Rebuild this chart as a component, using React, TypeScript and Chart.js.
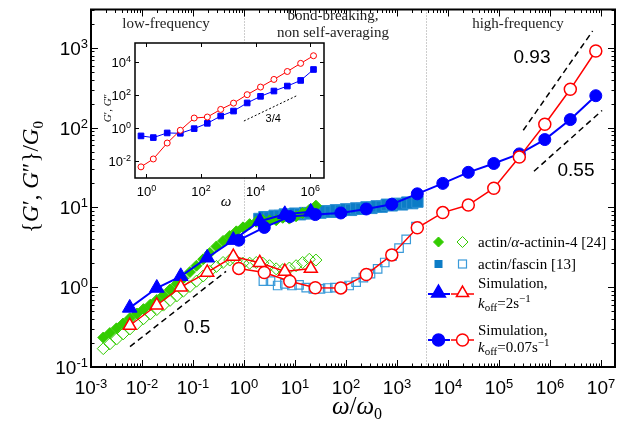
import React, { useEffect, useRef } from 'react';
import { Chart, registerables } from 'chart.js';
Chart.register(...registerables);

// ---------------- data ----------------
// Simulation k_off = 0.07 s^-1
const slowOmega = [0.79, 2.5, 7.9, 25, 79, 250, 790, 2500, 7900, 25000, 79000, 250000, 790000, 2.5e6, 7.9e6];
const slowGp = [3.88, 5.61, 7.67, 8.13, 8.51, 9.55, 10.96, 14.8, 20.0, 27.5, 35.5, 46.8, 70.8, 126, 251];
const slowGpp = [1.72, 1.53, 1.19, 0.986, 0.98, 1.44, 2.54, 5.55, 8.61, 10.7, 17.4, 42.7, 110, 302, 912];
// Simulation k_off = 2 s^-1
const fastOmega = [0.00575, 0.0195, 0.0575, 0.19, 0.617, 2.04, 6.31, 20.4];
const fastGp = [0.55, 0.977, 1.37, 2.34, 3.89, 6.71, 8.2, 8.8];
const fastGpp = [0.331, 0.594, 1.0, 1.53, 2.42, 2.02, 1.57, 1.71];
// actin / alpha-actinin-4 [24]
const actininOmega = [0.00174, 0.00234, 0.00316, 0.00427, 0.00575, 0.00794, 0.0107, 0.0145, 0.0195, 0.0263, 0.0355, 0.0479, 0.0646, 0.0871, 0.117, 0.158, 0.214, 0.288, 0.389, 0.525, 0.708, 0.955, 1.29, 1.74, 2.34, 3.16, 4.27, 5.75, 7.76, 10.5, 14.1, 19.1, 25.7];
const actininGp = [0.234, 0.266, 0.305, 0.351, 0.407, 0.468, 0.531, 0.603, 0.692, 0.794, 0.933, 1.10, 1.29, 1.55, 1.86, 2.24, 2.69, 3.24, 3.80, 4.37, 5.01, 5.62, 6.17, 6.61, 6.92, 6.85, 6.92, 7.41, 7.24, 7.76, 8.51, 9.33, 10.5];
const actininGpp = [0.170, 0.195, 0.224, 0.260, 0.299, 0.347, 0.403, 0.462, 0.525, 0.596, 0.684, 0.776, 0.891, 1.02, 1.19, 1.38, 1.58, 1.82, 2.04, 2.19, 2.14, 2.0, 2.0, 2.04, 2.0, 1.86, 1.70, 1.66, 1.74, 1.86, 2.04, 2.24, 2.19];
// actin / fascin [13]
const fascinGpOmega = [2.0, 2.51, 3.16, 3.98, 5.01, 6.31, 7.94, 10, 12.6, 15.8, 20, 25.1, 31.6, 39.8, 50.1, 63.1, 79.4, 100, 126, 158, 200, 251, 316, 398, 501, 631, 794, 1000, 1259, 1585, 1995, 2512];
const fascinGp = [7.16, 7.55, 7.45, 7.85, 7.8, 8.15, 8.0, 8.35, 8.2, 8.5, 8.4, 8.75, 8.6, 8.95, 8.8, 9.2, 9.1, 9.45, 9.3, 9.7, 9.6, 10.0, 9.85, 10.3, 10.2, 10.8, 10.6, 11.1, 10.9, 11.5, 11.3, 11.8];
const fascinGppOmega = [2.40, 3.31, 4.57, 6.31, 8.71, 12.0, 16.6, 22.9, 31.6, 43.7, 60.3, 83.2, 115, 158, 219, 302, 417, 575, 794, 1096, 1514, 2350];
const fascinGpp = [1.19, 1.19, 1.05, 1.10, 1.05, 1.07, 0.99, 0.955, 0.955, 0.977, 0.99, 1.01, 1.05, 1.16, 1.32, 1.48, 1.70, 2.04, 2.45, 3.09, 3.98, 5.75];
// power-law guides
const guideLowX = [0.00582, 0.444];
const guideLowY = [0.180, 1.58];
const guideHighGppX = [299000, 6.84e6];
const guideHighGppY = [92.7, 1622];
const guideHighGpX = [485000, 1.05e7];
const guideHighGpY = [28.4, 164];
const slopeLabels = ['0.5', '0.93', '0.55'];
// region boundaries and labels
const regionBounds = [1, 3715];
const xTickExps = [-3, -2, -1, 0, 1, 2, 3, 4, 5, 6, 7];
const yTickExps = [-1, 0, 1, 2, 3];
// inset
const insetOmega = [0.63, 1.78, 5.75, 17.4, 56, 170, 525, 1550, 4900, 15100, 46800, 145000, 447000, 1320000];
const insetGp = [0.347, 0.275, 0.525, 0.50, 0.955, 2.0, 5.5, 11.0, 33.9, 85, 178, 355, 776, 3550];
const insetGpp = [0.0047, 0.0141, 0.129, 0.76, 4.17, 4.79, 13.8, 33.1, 107, 309, 891, 2690, 8320, 24000];
const insetGuideX = [3715, 324000];
const insetGuideY = [2.75, 93.3];
const insetXTickExps = [0, 2, 4, 6];
const insetYTickExps = [-2, 0, 2, 4];

const pts = (xs: number[], ys: number[]) => xs.map((x, i) => ({ x, y: ys[i] }));

const SANS = '"Liberation Sans", Arial, sans-serif';
const SERIF = '"Liberation Serif", "Times New Roman", serif';
const GREEN = '#33cc00';
const FASCIN = '#0c7cc6';
const FASCIN_EDGE = '#2a8fd2';
const FASCIN_OPEN = '#3a9ad9';

type Run = { t: string; font: string; dy?: number };
function runsWidth(ctx: CanvasRenderingContext2D, runs: Run[]) {
  let w = 0;
  for (const r of runs) { ctx.font = r.font; w += ctx.measureText(r.t).width; }
  return w;
}
function drawRuns(ctx: CanvasRenderingContext2D, runs: Run[], x: number, y: number, align: 'left' | 'center' | 'right') {
  const w = runsWidth(ctx, runs);
  let cx = align === 'left' ? x : align === 'center' ? x - w / 2 : x - w;
  ctx.textAlign = 'left';
  ctx.textBaseline = 'alphabetic';
  for (const r of runs) {
    ctx.font = r.font;
    ctx.fillText(r.t, cx, y + (r.dy || 0));
    cx += ctx.measureText(r.t).width;
  }
}
function powRuns(exp: number, base: number, sup: number, supDy: number): Run[] {
  return [
    { t: '10', font: `${base}px ${SANS}` },
    { t: exp < 0 ? '-' + -exp : String(exp), font: `${sup}px ${SANS}`, dy: supDy },
  ];
}

const mainPlugin = {
  id: 'mainDecor',
  beforeDatasetsDraw(chart: any) {
    const { ctx, chartArea: a, scales } = chart;
    ctx.save();
    ctx.strokeStyle = '#9a9a9a';
    ctx.lineWidth = 1;
    ctx.setLineDash([1, 2]);
    for (const b of regionBounds) {
      const px = Math.round(scales.x.getPixelForValue(b)) + 0.5;
      ctx.beginPath();
      ctx.moveTo(px, a.top);
      ctx.lineTo(px, a.bottom);
      ctx.stroke();
    }
    ctx.restore();
  },
  afterDatasetsDraw(chart: any) {
    const { ctx, chartArea: a, scales } = chart;
    const xs = scales.x, ys = scales.y;
    ctx.save();
    ctx.strokeStyle = '#000';
    ctx.lineWidth = 1;
    ctx.beginPath();
    for (let e = -4; e <= 8; e++) {
      for (let m = 1; m <= 9; m++) {
        const v = m * Math.pow(10, e);
        if (v > xs.min && v < xs.max) {
          const px = Math.round(xs.getPixelForValue(v)) + 0.5;
          const len = m === 1 ? 7 : 3.5;
          ctx.moveTo(px, a.bottom); ctx.lineTo(px, a.bottom - len);
          ctx.moveTo(px, a.top); ctx.lineTo(px, a.top + len);
        }
        if (v > ys.min && v < ys.max) {
          const py = Math.round(ys.getPixelForValue(v)) + 0.5;
          const len = m === 1 ? 7 : 3.5;
          ctx.moveTo(a.left, py); ctx.lineTo(a.left + len, py);
          ctx.moveTo(a.right, py); ctx.lineTo(a.right - len, py);
        }
      }
    }
    ctx.stroke();
    ctx.lineWidth = 2;
    ctx.strokeRect(a.left, a.top, a.right - a.left, a.bottom - a.top);
    ctx.restore();
  },
  afterDraw(chart: any) {
    const { ctx, scales } = chart;
    const xs = scales.x, ys = scales.y;
    ctx.save();
    ctx.fillStyle = '#000';
    // tick labels
    for (const e of xTickExps) {
      const px = xs.getPixelForValue(Math.pow(10, e));
      drawRuns(ctx, powRuns(e, 19, 13, -6), px, 394, 'center');
    }
    for (const e of yTickExps) {
      const py = ys.getPixelForValue(Math.pow(10, e));
      drawRuns(ctx, powRuns(e, 19, 13, -7), 88, py + 7, 'right');
    }
    // axis titles
    drawRuns(ctx, [
      { t: 'ω', font: `italic 25px ${SERIF}` },
      { t: '/', font: `25px ${SERIF}` },
      { t: 'ω', font: `italic 25px ${SERIF}` },
      { t: '0', font: `16px ${SERIF}`, dy: 5 },
    ], 357, 414, 'center');
    ctx.save();
    ctx.translate(38, 177);
    ctx.rotate(-Math.PI / 2);
    drawRuns(ctx, [
      { t: '{', font: `23px ${SERIF}` },
      { t: 'G', font: `italic 23px ${SERIF}` },
      { t: '′', font: `23px ${SERIF}` },
      { t: ', ', font: `23px ${SERIF}` },
      { t: 'G', font: `italic 23px ${SERIF}` },
      { t: '″', font: `23px ${SERIF}` },
      { t: '}/', font: `23px ${SERIF}` },
      { t: 'G', font: `italic 23px ${SERIF}` },
      { t: '0', font: `15px ${SERIF}`, dy: 5 },
    ], 0, 0, 'center');
    ctx.restore();
    // region labels
    ctx.fillStyle = '#222';
    ctx.font = `15px ${SERIF}`;
    ctx.textAlign = 'center';
    ctx.textBaseline = 'middle';
    ctx.fillText('low-frequency', 166, 24);
    ctx.fillText('bond-breaking,', 333, 16);
    ctx.fillText('non self-averaging', 333, 33);
    ctx.fillText('high-frequency', 518, 24);
    // slope labels
    ctx.fillStyle = '#000';
    ctx.font = `19px ${SANS}`;
    ctx.fillText(slopeLabels[0], 197, 328);
    ctx.fillText(slopeLabels[1], 532, 58);
    ctx.fillText(slopeLabels[2], 576, 171);
    // legend
    const mx1 = 438.5, mx2 = 462.5, tx = 478;
    const diamond = (x: number, y: number, r: number, fill: boolean, col: string) => {
      ctx.beginPath();
      ctx.moveTo(x, y - r); ctx.lineTo(x + r, y); ctx.lineTo(x, y + r); ctx.lineTo(x - r, y); ctx.closePath();
      if (fill) { ctx.fillStyle = col; ctx.fill(); }
      ctx.strokeStyle = col; ctx.lineWidth = 1; ctx.stroke();
    };
    const square = (x: number, y: number, s: number, fill: boolean, col: string) => {
      if (fill) { ctx.fillStyle = col; ctx.fillRect(x - s / 2, y - s / 2, s, s); }
      else { ctx.strokeStyle = col; ctx.lineWidth = 1.2; ctx.strokeRect(x - s / 2, y - s / 2, s, s); }
    };
    const tri = (x: number, y: number, r: number, fill: boolean, col: string) => {
      ctx.beginPath();
      ctx.moveTo(x, y - r);
      ctx.lineTo(x + r * 0.866, y + r * 0.5);
      ctx.lineTo(x - r * 0.866, y + r * 0.5);
      ctx.closePath();
      ctx.fillStyle = fill ? col : '#fff'; ctx.fill();
      ctx.strokeStyle = col; ctx.lineWidth = 1.5; ctx.stroke();
    };
    const circ = (x: number, y: number, r: number, fill: boolean, col: string) => {
      ctx.beginPath(); ctx.arc(x, y, r, 0, Math.PI * 2);
      ctx.fillStyle = fill ? col : '#fff'; ctx.fill();
      ctx.strokeStyle = col; ctx.lineWidth = 1.5; ctx.stroke();
    };
    const seg = (x1: number, x2: number, y: number, col: string, w: number) => {
      ctx.beginPath(); ctx.moveTo(x1, y); ctx.lineTo(x2, y);
      ctx.strokeStyle = col; ctx.lineWidth = w; ctx.stroke();
    };
    diamond(mx1, 242, 5, true, GREEN);
    diamond(mx2, 242, 5.5, false, GREEN);
    square(mx1, 264, 8, true, FASCIN);
    square(mx2, 264, 8, false, FASCIN_OPEN);
    seg(428, 450, 294, '#0000ff', 2);
    seg(451, 474, 294, '#ff0000', 1.5);
    tri(mx1, 293, 8, true, '#0000ff');
    tri(mx2, 293, 7, false, '#ff0000');
    seg(428, 450, 340, '#0000ff', 2);
    seg(451, 474, 340, '#ff0000', 1.5);
    circ(mx1, 340, 6, true, '#0000ff');
    circ(mx2, 340, 6, false, '#ff0000');
    ctx.fillStyle = '#000';
    const R = `15px ${SERIF}`, I = `italic 15px ${SERIF}`, S = `11px ${SERIF}`;
    drawRuns(ctx, [
      { t: 'actin/', font: R }, { t: 'α', font: I }, { t: '-actinin-4 [24]', font: R },
    ], tx, 247, 'left');
    drawRuns(ctx, [{ t: 'actin/fascin [13]', font: R }], tx, 269, 'left');
    drawRuns(ctx, [{ t: 'Simulation,', font: R }], tx, 288, 'left');
    drawRuns(ctx, [
      { t: 'k', font: I }, { t: 'off', font: S, dy: 3 }, { t: '=2s', font: R }, { t: '−1', font: S, dy: -6 },
    ], tx, 308, 'left');
    drawRuns(ctx, [{ t: 'Simulation,', font: R }], tx, 335, 'left');
    drawRuns(ctx, [
      { t: 'k', font: I }, { t: 'off', font: S, dy: 3 }, { t: '=0.07s', font: R }, { t: '−1', font: S, dy: -6 },
    ], tx, 352, 'left');
    ctx.restore();
  },
};

const insetPlugin = {
  id: 'insetDecor',
  beforeDraw(chart: any) {
    const { ctx, chartArea: a } = chart;
    ctx.save();
    ctx.fillStyle = '#fff';
    ctx.fillRect(a.left, a.top, a.right - a.left, a.bottom - a.top);
    ctx.restore();
  },
  afterDatasetsDraw(chart: any) {
    const { ctx, chartArea: a, scales } = chart;
    const xs = scales.x, ys = scales.y;
    ctx.save();
    ctx.strokeStyle = '#000';
    ctx.lineWidth = 1;
    ctx.beginPath();
    for (const e of insetXTickExps) {
      const px = Math.round(xs.getPixelForValue(Math.pow(10, e))) + 0.5;
      ctx.moveTo(px, a.bottom); ctx.lineTo(px, a.bottom - 4);
      ctx.moveTo(px, a.top); ctx.lineTo(px, a.top + 4);
    }
    for (const e of insetYTickExps) {
      const py = Math.round(ys.getPixelForValue(Math.pow(10, e))) + 0.5;
      ctx.moveTo(a.left, py); ctx.lineTo(a.left + 4, py);
      ctx.moveTo(a.right, py); ctx.lineTo(a.right - 4, py);
    }
    ctx.stroke();
    ctx.lineWidth = 1.5;
    ctx.strokeRect(a.left, a.top, a.right - a.left, a.bottom - a.top);
    ctx.fillStyle = '#000';
    for (const e of insetXTickExps) {
      const px = xs.getPixelForValue(Math.pow(10, e));
      drawRuns(ctx, powRuns(e, 13, 9, -5), px, 196, 'center');
    }
    for (const e of insetYTickExps) {
      const py = ys.getPixelForValue(Math.pow(10, e));
      drawRuns(ctx, powRuns(e, 13, 9, -5), 131, py + 5, 'right');
    }
    drawRuns(ctx, [{ t: 'ω', font: `italic 15px ${SERIF}` }], 226, 206, 'center');
    ctx.save();
    ctx.translate(111, 108);
    ctx.rotate(-Math.PI / 2);
    drawRuns(ctx, [
      { t: 'G', font: `italic 11px ${SERIF}` }, { t: '′, ', font: `11px ${SERIF}` },
      { t: 'G', font: `italic 11px ${SERIF}` }, { t: '″', font: `11px ${SERIF}` },
    ], 0, 0, 'center');
    ctx.restore();
    ctx.font = `11px ${SANS}`;
    ctx.textAlign = 'center';
    ctx.textBaseline = 'middle';
    ctx.fillText('3/4', xs.getPixelForValue(44000), ys.getPixelForValue(3.5));
    ctx.restore();
  },
};

export default function App() {
  const mainRef = useRef<HTMLCanvasElement>(null);
  const insetRef = useRef<HTMLCanvasElement>(null);

  useEffect(() => {
    document.body.style.margin = '0';
    const main = new Chart(mainRef.current as HTMLCanvasElement, {
      type: 'scatter',
      data: {
        datasets: [
          { data: pts(slowOmega, slowGpp), showLine: true, borderColor: '#ff0000', borderWidth: 1.5, pointStyle: 'circle', pointRadius: 6, pointBackgroundColor: '#ffffff', pointBorderColor: '#ff0000', pointBorderWidth: 1.5 },
          { data: pts(slowOmega, slowGp), showLine: true, borderColor: '#0000ff', borderWidth: 2, pointStyle: 'circle', pointRadius: 6, pointBackgroundColor: '#0000ff', pointBorderColor: '#0000ff', pointBorderWidth: 1 },
          { data: pts(fastOmega, fastGpp), showLine: true, borderColor: '#ff0000', borderWidth: 1.5, pointStyle: 'triangle', pointRadius: 7.5, pointBackgroundColor: '#ffffff', pointBorderColor: '#ff0000', pointBorderWidth: 1.5 },
          { data: pts(fastOmega, fastGp), showLine: true, borderColor: '#0000ff', borderWidth: 2, pointStyle: 'triangle', pointRadius: 8.5, pointBackgroundColor: '#0000ff', pointBorderColor: '#0000ff', pointBorderWidth: 1 },
          { data: pts(guideLowX, guideLowY), showLine: true, borderColor: '#000', borderWidth: 1.5, borderDash: [6, 4], pointRadius: 0 },
          { data: pts(guideHighGppX, guideHighGppY), showLine: true, borderColor: '#000', borderWidth: 1.5, borderDash: [6, 4], pointRadius: 0 },
          { data: pts(guideHighGpX, guideHighGpY), showLine: true, borderColor: '#000', borderWidth: 1.5, borderDash: [6, 4], pointRadius: 0 },
          { data: pts(actininOmega, actininGp), pointStyle: 'rectRot', pointRadius: 5.5, pointBackgroundColor: GREEN, pointBorderColor: GREEN, pointBorderWidth: 1 },
          { data: pts(actininOmega, actininGpp), pointStyle: 'rectRot', pointRadius: 6, pointBackgroundColor: 'rgba(0,0,0,0)', pointBorderColor: GREEN, pointBorderWidth: 1 },
          { data: pts(fascinGpOmega, fascinGp), pointStyle: 'rect', pointRadius: 8, pointBackgroundColor: FASCIN, pointBorderColor: FASCIN_EDGE, pointBorderWidth: 1 },
          { data: pts(fascinGppOmega, fascinGpp), pointStyle: 'rect', pointRadius: 6, pointBackgroundColor: 'rgba(0,0,0,0)', pointBorderColor: FASCIN_OPEN, pointBorderWidth: 1.2 },
        ],
      },
      options: {
        responsive: false,
        animation: false,
        devicePixelRatio: 1,
        events: [],
        layout: { padding: { left: 91, right: 14, top: 4, bottom: 59 } },
        plugins: { legend: { display: false }, tooltip: { enabled: false } },
        elements: { line: { tension: 0 } },
        scales: {
          x: { type: 'logarithmic', min: 0.001, max: 1.88e7, display: false },
          y: { type: 'logarithmic', min: 0.1, max: 3020, display: false },
        },
      },
      plugins: [mainPlugin],
    } as any);

    const inset = new Chart(insetRef.current as HTMLCanvasElement, {
      type: 'scatter',
      data: {
        datasets: [
          { data: pts(insetOmega, insetGpp), showLine: true, borderColor: '#ff0000', borderWidth: 1, pointStyle: 'circle', pointRadius: 3, pointBackgroundColor: '#ffffff', pointBorderColor: '#ff0000', pointBorderWidth: 1 },
          { data: pts(insetOmega, insetGp), showLine: true, borderColor: '#0000ff', borderWidth: 1, pointStyle: 'rect', pointRadius: 4, pointBackgroundColor: '#0000ff', pointBorderColor: '#0000ff', pointBorderWidth: 1 },
          { data: pts(insetGuideX, insetGuideY), showLine: true, borderColor: '#000', borderWidth: 1, borderDash: [2, 2], pointRadius: 0 },
        ],
      },
      options: {
        responsive: false,
        animation: false,
        devicePixelRatio: 1,
        events: [],
        layout: { padding: { left: 135, right: 305, top: 43, bottom: 248 } },
        plugins: { legend: { display: false }, tooltip: { enabled: false } },
        elements: { line: { tension: 0 } },
        scales: {
          x: { type: 'logarithmic', min: 0.38, max: 3.2e6, display: false },
          y: { type: 'logarithmic', min: 0.001, max: 141000, display: false },
        },
      },
      plugins: [insetPlugin],
    } as any);

    return () => { main.destroy(); inset.destroy(); };
  }, []);

  return (
    <div style={{ position: 'fixed', left: 0, top: 0, width: 629, height: 426, background: '#fff' }}>
      <canvas ref={mainRef} width={629} height={426} style={{ position: 'absolute', left: 0, top: 0, width: 629, height: 426 }} />
      <canvas ref={insetRef} width={629} height={426} style={{ position: 'absolute', left: 0, top: 0, width: 629, height: 426 }} />
    </div>
  );
}
